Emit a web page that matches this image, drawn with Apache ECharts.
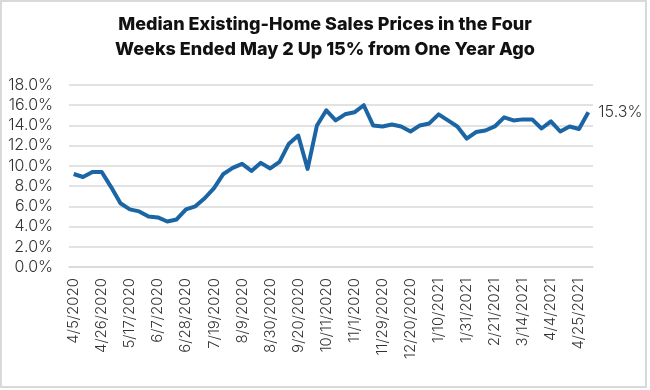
<!DOCTYPE html>
<html>
<head>
<meta charset="utf-8">
<script src="https://cdn.jsdelivr.net/npm/echarts@6/dist/echarts.min.js"></script>
<style>
html,body{margin:0;padding:0;background:#fff;}
#chart{width:650px;height:390px;}
</style>
</head>
<body>
<div id="chart"></div>
<script>
const titleText = 'Median Existing-Home Sales Prices in the Four\nWeeks Ended May 2 Up 15% from One Year Ago';

const weeks = [
  '4/5/2020','4/12/2020','4/19/2020','4/26/2020','5/3/2020','5/10/2020','5/17/2020','5/24/2020','5/31/2020',
  '6/7/2020','6/14/2020','6/21/2020','6/28/2020','7/5/2020','7/12/2020','7/19/2020','7/26/2020','8/2/2020',
  '8/9/2020','8/16/2020','8/23/2020','8/30/2020','9/6/2020','9/13/2020','9/20/2020','9/27/2020','10/4/2020',
  '10/11/2020','10/18/2020','10/25/2020','11/1/2020','11/8/2020','11/15/2020','11/29/2020','12/6/2020','12/13/2020',
  '12/20/2020','12/27/2020','1/3/2021','1/10/2021','1/17/2021','1/24/2021','1/31/2021','2/7/2021','2/14/2021',
  '2/21/2021','2/28/2021','3/7/2021','3/14/2021','3/21/2021','3/28/2021','4/4/2021','4/11/2021','4/18/2021',
  '4/25/2021','5/2/2021'
];

const priceChange = [
  9.2, 8.9, 9.4, 9.4, 7.9, 6.3, 5.7, 5.5, 5.0,
  4.9, 4.5, 4.7, 5.7, 6.0, 6.8, 7.8, 9.2, 9.8,
  10.2, 9.5, 10.3, 9.75, 10.4, 12.2, 13.0, 9.7, 14.0,
  15.5, 14.5, 15.1, 15.3, 16.0, 14.0, 13.9, 14.1, 13.9,
  13.4, 14.0, 14.2, 15.1, 14.5, 13.9, 12.7, 13.35, 13.5,
  13.9, 14.8, 14.5, 14.6, 14.6, 13.7, 14.4, 13.4, 13.9,
  13.65, 15.3
];

const yTicks = { min: 0, max: 18, interval: 2 };

const chart = echarts.init(document.getElementById('chart'), null, { renderer: 'canvas' });
const FONT = 'Inter, Lato, sans-serif';

chart.setOption({
  animation: false,
  backgroundColor: '#ffffff',
  title: {
    text: titleText,
    left: 'center',
    top: 7,
    textStyle: { fontFamily: FONT, fontWeight: 800, fontSize: 18, color: '#111', lineHeight: 25 }
  },
  graphic: [{
    type: 'rect',
    shape: { x: 1, y: 1, width: 645, height: 386 },
    style: { fill: 'none', stroke: '#d9d9d9', lineWidth: 2 },
    silent: true
  }],
  grid: { left: 69, right: 57, top: 85, bottom: 123, containLabel: false },
  xAxis: {
    type: 'category',
    data: weeks,
    boundaryGap: true,
    axisLine: { show: true, lineStyle: { color: '#d9d9d9', width: 1.5 } },
    axisTick: { show: false },
    axisLabel: {
      interval: 2,
      rotate: 90,
      margin: 11,
      fontFamily: FONT,
      fontWeight: 300,
      fontSize: 15,
      color: '#333'
    }
  },
  yAxis: {
    type: 'value',
    min: yTicks.min,
    max: yTicks.max,
    interval: yTicks.interval,
    axisLine: { show: false },
    axisTick: { show: false },
    splitLine: { lineStyle: { color: '#d9d9d9', width: 1.5 } },
    axisLabel: {
      margin: 16,
      fontFamily: FONT,
      fontWeight: 300,
      fontSize: 16,
      color: '#333',
      formatter: v => v.toFixed(1) + '%'
    }
  },
  series: [{
    type: 'line',
    data: priceChange,
    showSymbol: false,
    symbol: 'none',
    lineStyle: { color: '#1c65a5', width: 4, join: 'round' },
    itemStyle: { color: '#1c65a5' },
    endLabel: {
      show: true,
      distance: 10,
      formatter: p => Number(p.value).toFixed(1) + '%',
      fontFamily: FONT,
      fontWeight: 300,
      fontSize: 16,
      color: '#333'
    }
  }]
});
</script>
</body>
</html>
